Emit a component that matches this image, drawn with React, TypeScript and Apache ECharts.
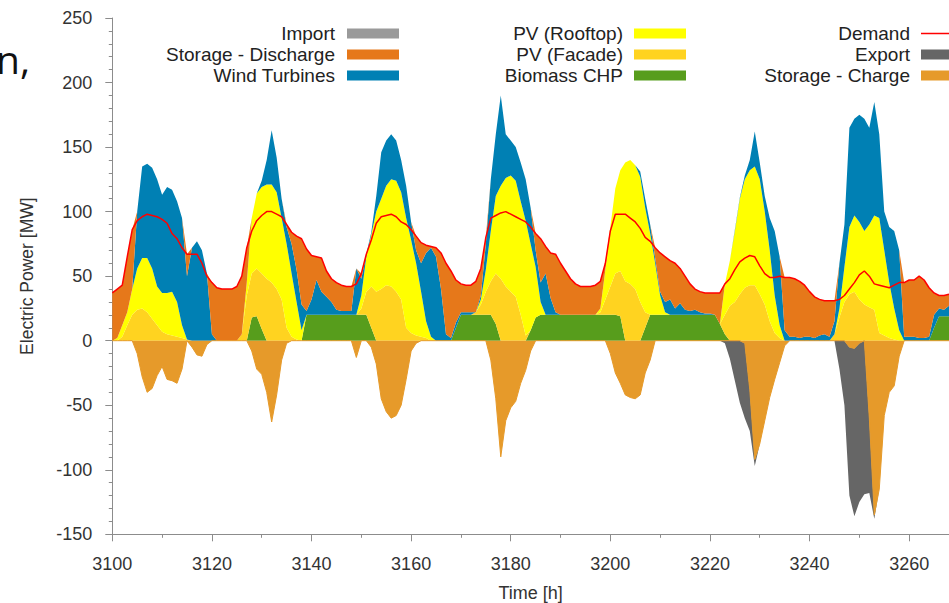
import React, { useEffect, useRef } from 'react';
import * as echarts from 'echarts';

// Hourly time index (h)
const hours: number[] = Array.from({ length: 169 }, (_, i) => 3100 + i);

// Values in MW, one per hour from 3100 h to 3268 h
const biomass: number[] = [
  0, 0, 0, 0, 0, 0, 0, 0, 0, 0,
  0, 0, 0, 0, 0, 0, 0, 0, 0, 0,
  0, 0, 0, 0, 0, 0, 0, 0, 18, 19, 9,
  0, 0, 0, 0, 0, 0, 0, 0, 20, 20,
  20, 20, 20, 20, 20, 20, 20, 20, 20, 20, 20,
  10, 0, 0, 0, 0, 0, 0, 0, 0, 0,
  0, 0, 0, 0, 0, 0, 0, 10, 20, 20,
  20, 20, 20, 20, 20, 13, 0, 0, 0, 0,
  0, 0, 8, 18, 20, 20, 20, 20, 20, 20,
  20, 20, 20, 20, 20, 20, 20, 20, 20, 20, 19,
  0, 0, 0, 0, 10, 20, 20, 20, 20, 20,
  20, 20, 20, 20, 20, 20, 20, 20, 20, 13, 5,
  0, 0, 0, 0, 0, 0, 0, 0, 0, 0,
  0, 0, 0, 0, 0, 0, 0, 0, 0, 0,
  0, 0, 0, 0, 0, 0, 0, 0, 0, 0,
  0, 0, 0, 0, 0, 0, 0, 0, 0, 0, 0,
  10, 19, 19, 19,
];

const pvFacade: number[] = [
  0, 0, 3, 12, 20, 24, 25, 22, 17, 12,
  7, 5, 4, 3, 2, 1, 0, 0, 0, 0,
  0, 0, 0, 0, 0, 0, 5, 35, 34, 37, 43,
  48, 45, 40, 32, 10, 3, 1, 0, 0, 0,
  0, 0, 0, 0, 0, 0, 0, 0, 0, 5, 18,
  32, 38, 40, 43, 42, 38, 32, 10, 6, 4,
  3, 2, 0, 0, 0, 0, 0, 0, 0, 0,
  0, 2, 8, 18, 26, 39, 48, 42, 38, 34,
  20, 4, 0, 0, 0, 0, 0, 0, 0, 0,
  0, 0, 0, 0, 0, 0, 2, 12, 22, 32, 35,
  46, 44, 40, 30, 12, 0, 0, 0, 0, 0,
  0, 0, 0, 0, 0, 0, 0, 0, 0, 0, 15,
  27, 30, 36, 41, 43, 43, 36, 28, 15, 6,
  2, 0, 0, 0, 0, 0, 0, 0, 0, 0,
  0, 5, 18, 30, 36, 38, 32, 28, 26, 24,
  6, 4, 2, 1, 0, 0, 0, 0, 0, 0, 0,
  0, 0, 0, 0,
];

const pvRooftop: number[] = [
  0, 2, 9, 10, 20, 32, 39, 42, 39, 30,
  30, 32, 34, 27, 10, 0, 0, 0, 0, 0,
  0, 0, 0, 0, 0, 0, 0, 10, 43, 58, 67,
  73, 76, 75, 63, 65, 49, 29, 8, 0, 0,
  0, 0, 0, 0, 0, 0, 0, 0, 0, 10, 27,
  40, 62, 70, 77, 83, 86, 83, 85, 72, 56,
  35, 13, 3, 0, 0, 0, 0, 0, 0, 0,
  0, 0, 4, 17, 39, 60, 72, 84, 90, 90,
  88, 89, 67, 39, 10, 0, 0, 0, 0, 0,
  0, 0, 0, 0, 0, 0, 3, 23, 46, 66, 78,
  92, 96, 96, 97, 81, 63, 40, 15, 2, 0,
  0, 0, 0, 0, 0, 0, 0, 0, 0, 0, 24,
  35, 55, 74, 84, 89, 92, 89, 72, 55, 29,
  10, 0, 0, 0, 0, 0, 0, 0, 0, 0,
  0, 0, 7, 27, 52, 59, 60, 57, 64, 73,
  89, 66, 43, 24, 8, 0, 0, 0, 0, 0, 0,
  0, 0, 0, 0,
];

const wind: number[] = [
  0, 0, 0, 0, 0, 44, 71, 73, 78, 83,
  76, 82, 79, 78, 83, 49, 72, 77, 70, 52,
  5, 0, 0, 0, 0, 0, 0, 0, 0, 0, 5,
  19, 42, 27, 15, 13, 23, 25, 20, 3, 12,
  27, 18, 14, 10, 4, 3, 3, 3, 36, 13, 2,
  2, 12, 36, 35, 35, 31, 25, 25, 14, 10,
  22, 53, 69, 65, 40, 5, 2, 4, 2, 2,
  2, 0, 3, 20, 40, 48, 70, 34, 27, 26,
  30, 32, 28, 13, 15, 32, 13, 2, 0, 0,
  0, 0, 0, 0, 0, 0, 0, 0, 0, 0, 0,
  0, 0, 0, 4, 7, 7, 4, 3, 8, 12,
  5, 9, 4, 3, 4, 2, 1, 1, 0, 0, 0,
  0, 1, 1, 3, 8, 27, 13, 12, 25, 50,
  53, 8, 3, 3, 2, 3, 3, 2, 4, 5,
  3, 10, 35, 33, 77, 75, 83, 87, 75, 88,
  65, 30, 43, 60, 62, 3, 3, 3, 2, 2, 3,
  10, 6, 5, 8,
];

const storageDischarge: number[] = [
  37, 38, 31, 43, 46, 0, 0, 0, 0, 0,
  0, 0, 0, 0, 0, 17, 0, 0, 0, 0,
  40, 41, 40, 40, 40, 42, 45, 27, 0, 0, 0,
  0, 0, 0, 0, 2, 9, 26, 51, 48, 34,
  18, 26, 20, 18, 21, 20, 19, 19, 0, 4, 0,
  0, 0, 0, 0, 0, 0, 0, 0, 0, 11,
  16, 6, 1, 7, 28, 55, 52, 33, 22, 21,
  21, 24, 21, 5, 0, 0, 0, 0, 0, 0,
  0, 0, 0, 13, 34, 21, 35, 45, 40, 34,
  28, 24, 22, 22, 22, 23, 21, 5, 0, 0, 0,
  0, 0, 0, 0, 0, 0, 8, 30, 35, 30,
  35, 27, 26, 21, 16, 16, 16, 16, 17, 24, 0,
  0, 0, 0, 0, 0, 0, 0, 0, 0, 0,
  0, 41, 46, 45, 44, 40, 35, 32, 28, 26,
  28, 16, 0, 0, 0, 0, 0, 0, 0, 0,
  0, 0, 0, 0, 0, 42, 44, 44, 48, 45, 38,
  17, 10, 11, 9,
];

const importMW: number[] = [];

const storageCharge: number[] = [
  0, 0, 0, 0, 0, -10, -28, -40, -37, -27,
  -20, -30, -31, -33, -22, 0, -5, -11, -12, -3,
  0, 0, 0, 0, 0, 0, 0, 0, -8, -22, -26,
  -40, -63, -42, -15, -2, 0, 0, 0, 0, 0,
  0, 0, 0, 0, 0, 0, 0, 0, -13, 0, 0,
  -5, -18, -45, -55, -60, -58, -50, -30, -8, -2,
  0, 0, 0, 0, 0, 0, 0, 0, 0, 0,
  0, 0, 0, 0, -15, -45, -90, -62, -52, -47,
  -33, -23, -8, 0, 0, 0, 0, 0, 0, 0,
  0, 0, 0, 0, 0, 0, 0, 0, -10, -25, -33,
  -42, -44, -45, -42, -25, -15, 0, 0, 0, 0,
  0, 0, 0, 0, 0, 0, 0, 0, 0, 0, 0,
  0, 0, 0, -2, -38, -92, -80, -62, -44, -30,
  -17, -4, 0, 0, 0, 0, 0, 0, 0, 0,
  0, 0, 0, 0, -5, -6, -2, 0, -60, -135,
  -115, -58, -40, -35, -12, 0, 0, 0, 0, 0, 0,
  0, 0, 0, 0,
];

const exportMW: number[] = [
  0, 0, 0, 0, 0, 0, 0, 0, 0, 0,
  0, 0, 0, 0, 0, 0, 0, 0, 0, 0,
  0, 0, 0, 0, 0, 0, 0, 0, 0, 0, 0,
  0, 0, 0, 0, 0, 0, 0, 0, 0, 0,
  0, 0, 0, 0, 0, 0, 0, 0, 0, 0, 0,
  0, 0, 0, 0, 0, 0, 0, 0, 0, 0,
  0, 0, 0, 0, 0, 0, 0, 0, 0, 0,
  0, 0, 0, 0, 0, 0, 0, 0, 0, 0,
  0, 0, 0, 0, 0, 0, 0, 0, 0, 0,
  0, 0, 0, 0, 0, 0, 0, 0, 0, 0, 0,
  0, 0, 0, 0, 0, 0, 0, 0, 0, 0,
  0, 0, 0, 0, 0, 0, 0, 0, 0, 0, -2,
  -14, -31, -48, -58, -32, -5, 0, 0, 0, 0,
  0, 0, 0, 0, 0, 0, 0, 0, 0, 0,
  0, 0, -22, -50, -115, -130, -123, -119, -58, -3,
  0, 0, 0, 0, 0, 0, 0, 0, 0, 0, 0,
  0, 0, 0, 0,
];

const demand: number[] = [
  37, 40, 43, 65, 86, 93, 96, 98, 97, 96,
  94, 91, 83, 79, 72, 67, 67, 67, 60, 50,
  45, 41, 40, 40, 40, 42, 50, 72, 85, 93, 97,
  100, 100, 98, 96, 90, 84, 81, 79, 71, 66,
  65, 64, 54, 48, 45, 43, 42, 42, 44, 52, 67,
  78, 91, 96, 97, 98, 96, 92, 90, 86, 81,
  76, 74, 73, 72, 68, 60, 54, 47, 44, 43,
  43, 46, 56, 80, 95, 97, 99, 100, 98, 96,
  94, 92, 88, 83, 79, 73, 68, 67, 60, 54,
  48, 44, 42, 42, 42, 43, 46, 60, 85, 98, 98,
  98, 95, 92, 87, 80, 77, 72, 68, 65, 62,
  60, 56, 50, 44, 40, 38, 37, 37, 37, 37, 44,
  48, 55, 61, 64, 66, 65, 58, 52, 49, 49,
  50, 49, 49, 48, 46, 43, 38, 34, 32, 31,
  31, 31, 32, 35, 40, 45, 51, 54, 50, 44,
  43, 42, 41, 43, 45, 45, 47, 47, 50, 47, 41,
  37, 35, 35, 36,
];

const yTicks = { min: -150, max: 250, interval: 50 };
const xTicks = { min: 3100, max: 3268, interval: 20 };

const FONT = '"Liberation Sans", Arial, Helvetica, sans-serif';
const C = {
  import: '#9a9a9a',
  discharge: '#e6781a',
  wind: '#0080b4',
  rooftop: '#ffff00',
  facade: '#ffd320',
  biomass: '#579d1c',
  demand: '#ff0000',
  export: '#666666',
  charge: '#e69a2a',
};

function area(name: string, values: number[], color: string, stack: string, lineWidth = 0) {
  return {
    name,
    type: 'line',
    stack,
    color,
    symbol: 'none',
    showSymbol: false,
    silent: true,
    lineStyle: { width: lineWidth, color },
    itemStyle: { color },
    areaStyle: { color, opacity: 1 },
    emphasis: { disabled: true },
    // value first so that the stack is computed on the power dimension
    encode: { x: 1, y: 0 },
    data: values.map((v, i) => [v, hours[i]]),
    z: 2,
  };
}

function legend(names: string[], right: number, textPad: number) {
  return {
    orient: 'vertical',
    align: 'right',
    right,
    top: 23,
    padding: 0,
    itemGap: 0,
    itemWidth: 52,
    itemHeight: 10,
    selectedMode: false,
    symbolKeepAspect: true,
    textStyle: { fontSize: 19, color: '#222', fontFamily: FONT, lineHeight: 21, padding: [0, textPad, 0, 0] },
    data: names.map((n) =>
      n === 'Demand'
        ? { name: n, icon: 'path://M0,0 L52,0 L52,1.6 L0,1.6 Z' }
        : { name: n, icon: 'rect' }
    ),
  };
}

export default function App() {
  const ref = useRef<HTMLDivElement>(null);
  useEffect(() => {
    if (!ref.current) return;
    const chart = echarts.init(ref.current, null, { renderer: 'svg' });
    const option: any = {
      animation: false,
      backgroundColor: '#ffffff',
      textStyle: { fontFamily: FONT },
      grid: { left: 112.3, right: 0, top: 18, bottom: 68.7, containLabel: false, outerBoundsMode: 'none' },
      legend: [
        legend(['Import', 'Storage - Discharge', 'Wind Turbines'], 550, 7),
        legend(['PV (Rooftop)', 'PV (Facade)', 'Biomass CHP'], 263, 6),
        legend(['Demand', 'Export', 'Storage - Charge'], -24, 6),
      ],
      graphic: [
        {
          type: 'text',
          x: -4,
          y: 58,
          style: { text: 'n,', fontSize: 39, fontFamily: '"Open Sans", "Noto Sans", sans-serif', fill: '#111', verticalAlign: 'middle' },
        },
      ],
      xAxis: {
        type: 'value',
        min: xTicks.min,
        max: xTicks.max,
        interval: xTicks.interval,
        name: 'Time [h]',
        nameLocation: 'middle',
        nameGap: 50,
        nameMoveOverlap: false,
        nameTextStyle: { fontSize: 18, color: '#333', fontFamily: FONT },
        axisLine: { show: true, onZero: false, lineStyle: { color: '#8c8c8c', width: 1 } },
        axisTick: { show: true, length: 7, inside: false, lineStyle: { color: '#8c8c8c' } },
        minorTick: { show: true, splitNumber: 2, length: 3.5, lineStyle: { color: '#8c8c8c' } },
        axisLabel: {
          fontSize: 18,
          color: '#333',
          margin: 21,
          showMaxLabel: false,
          formatter: (v: number) => (v % 20 === 0 ? String(v) : ''),
        },
        splitLine: { show: false },
        minorSplitLine: { show: false },
      },
      yAxis: {
        type: 'value',
        min: yTicks.min,
        max: yTicks.max,
        interval: yTicks.interval,
        name: 'Electric Power [MW]',
        nameLocation: 'middle',
        nameGap: 76,
        nameMoveOverlap: false,
        nameTextStyle: { fontSize: 17.5, color: '#333', fontFamily: FONT },
        axisLine: { show: true, onZero: false, lineStyle: { color: '#8c8c8c', width: 1 } },
        axisTick: { show: true, length: 7, inside: false, lineStyle: { color: '#8c8c8c' } },
        minorTick: { show: true, splitNumber: 5, length: 3.5, lineStyle: { color: '#8c8c8c' } },
        axisLabel: { fontSize: 18, color: '#333', margin: 20 },
        splitLine: { show: false },
        minorSplitLine: { show: false },
      },
      series: [
        area('Biomass CHP', biomass, C.biomass, 'pos'),
        area('PV (Facade)', pvFacade, C.facade, 'pos'),
        area('PV (Rooftop)', pvRooftop, C.rooftop, 'pos'),
        area('Wind Turbines', wind, C.wind, 'pos'),
        area('Storage - Discharge', storageDischarge, C.discharge, 'pos'),
        area('Import', importMW, C.import, 'pos'),
        area('Storage - Charge', storageCharge, C.charge, 'neg', 1),
        area('Export', exportMW, C.export, 'neg'),
        {
          name: 'Demand',
          type: 'line',
          color: C.demand,
          symbol: 'none',
          showSymbol: false,
          silent: true,
          lineStyle: { width: 1.5, color: C.demand },
          emphasis: { disabled: true },
          data: demand.map((v, i) => [hours[i], v]),
          z: 5,
        },
      ],
    };
    chart.setOption(option);
    return () => chart.dispose();
  }, []);
  return (
    <div
      ref={ref}
      style={{ position: 'fixed', left: 0, top: 0, width: 949, height: 603, background: '#fff' }}
    />
  );
}
